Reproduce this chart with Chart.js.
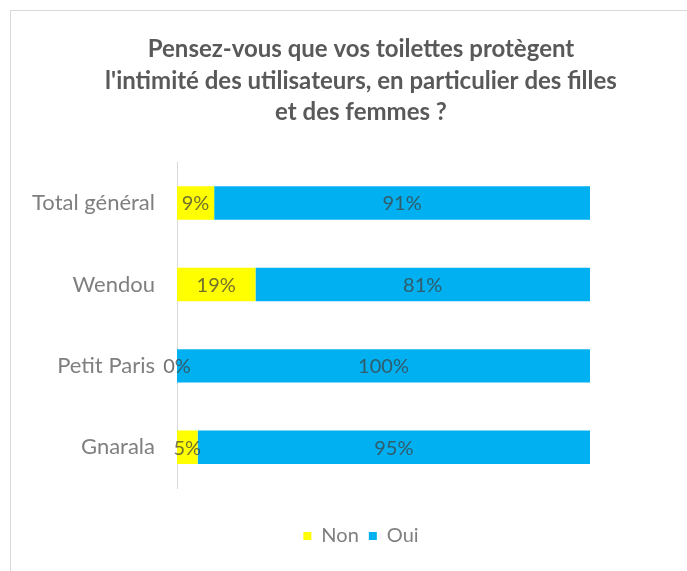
<!DOCTYPE html>
<html>
<head>
<meta charset="utf-8">
<script src="https://cdn.jsdelivr.net/npm/chart.js@4"></script>
<style>
  html, body { margin: 0; padding: 0; background: #fff; overflow: hidden; }
  #chartContainer {
    position: absolute; left: 10px; top: 10px;
    width: 700px; height: 570px;
    border: 1px solid #d9d9d9;
  }
</style>
</head>
<body>
<div id="chartContainer"><canvas id="myChart" width="700" height="570"></canvas></div>
<script>
const categories = ["Total général", "Wendou", "Petit Paris", "Gnarala"];
const nonValues = [9, 19, 0, 5];
const ouiValues = [91, 81, 100, 95];
const titleLines = [
  "Pensez-vous que vos toilettes protègent",
  "l'intimité des utilisateurs, en particulier des filles",
  "et des femmes ?"
];

const FONT = "Lato, 'Open Sans', sans-serif";

// pourcentages écrits au milieu de chaque segment
const barLabels = {
  id: "barLabels",
  afterDatasetsDraw(chart) {
    const ctx = chart.ctx;
    ctx.save();
    ctx.font = "20px " + FONT;
    ctx.fillStyle = "rgba(64, 64, 64, 0.75)";
    ctx.textAlign = "center";
    ctx.textBaseline = "middle";
    chart.data.datasets.forEach((ds, i) => {
      const meta = chart.getDatasetMeta(i);
      meta.data.forEach((bar, j) => {
        const x = (bar.x + bar.base) / 2;
        ctx.fillText(ds.data[j] + "%", x, bar.y + 1);
      });
    });
    ctx.restore();
  }
};

document.addEventListener("DOMContentLoaded", function () {
  const ctx = document.getElementById("myChart").getContext("2d");

  new Chart(ctx, {
    type: "bar",
    data: {
      labels: categories,
      datasets: [
        {
          label: "Non",
          data: nonValues,
          backgroundColor: "#FFFF00",
          barPercentage: 0.41,
          categoryPercentage: 1
        },
        {
          label: "Oui",
          data: ouiValues,
          backgroundColor: "#00B0F0",
          barPercentage: 0.41,
          categoryPercentage: 1
        }
      ]
    },
    plugins: [barLabels],
    options: {
      indexAxis: "y",
      responsive: false,
      animation: false,
      layout: { padding: { left: 0, right: 0, top: 0, bottom: 25 } },
      scales: {
        x: {
          stacked: true,
          min: 0,
          max: 100,
          display: true,
          grid: { display: false },
          border: { display: false },
          ticks: { display: false },
          afterFit(scale) { scale.height = 28; }
        },
        y: {
          stacked: true,
          grid: { display: false, drawTicks: false },
          border: { display: true, color: "#d9d9d9", width: 1 },
          ticks: {
            color: "#7f7f7f",
            padding: 22,
            font: { family: FONT, size: 22 }
          },
          afterFit(scale) { scale.width = 166; }
        },
        // axe vide à droite, réserve la marge
        yRight: {
          type: "linear",
          position: "right",
          display: true,
          grid: { display: false },
          border: { display: false },
          ticks: { display: false },
          afterFit(scale) { scale.width = 121; }
        }
      },
      plugins: {
        title: {
          display: true,
          text: titleLines,
          color: "#595959",
          font: { family: FONT, size: 24, weight: "bold", lineHeight: 1.31 },
          padding: { top: 23, bottom: 34 }
        },
        legend: {
          display: true,
          position: "bottom",
          labels: {
            color: "#7f7f7f",
            boxWidth: 8,
            boxHeight: 8,
            padding: 10,
            font: { family: FONT, size: 20 }
          }
        },
        tooltip: { enabled: false }
      }
    }
  });
});
</script>
</body>
</html>
